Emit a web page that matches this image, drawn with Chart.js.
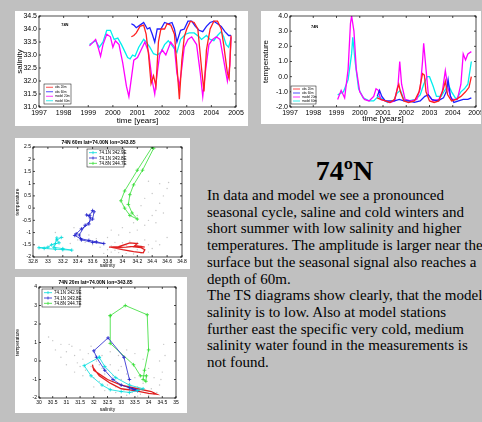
<!DOCTYPE html>
<html lang="en">
<head>
<meta charset="UTF-8" />
<title>74N salinity, temperature and TS diagrams</title>
<script src="https://cdn.jsdelivr.net/npm/chart.js"></script>
<style>
  body {
    margin: 0;
    width: 482px;
    height: 422px;
    overflow: hidden;
    position: relative;
    background: #c0c0c0;
    font-family: "Liberation Serif", "Times New Roman", serif;
  }
  .panel { position: absolute; background: #fff; }
  .panel canvas { display: block; }
  h2 {
    position: absolute; left: 207px; width: 275px; top: 157px;
    margin: 0; text-align: center; font-size: 28px; line-height: 28px; font-weight: bold;
  }
  .txt {
    position: absolute; left: 207px; top: 187px; margin: 0;
    font-size: 15px; line-height: 16.7px; white-space: pre; color: #000;
  }
</style>
</head>
<body>

<div class="panel" style="left:15px;top:11px;width:233px;height:115px"><canvas id="salChart" width="233" height="115"></canvas></div>
<div class="panel" style="left:261px;top:11px;width:220px;height:113px"><canvas id="tempChart" width="220" height="113"></canvas></div>
<div class="panel" style="left:15px;top:138px;width:175px;height:131px"><canvas id="ts60Chart" width="175" height="131"></canvas></div>
<div class="panel" style="left:15px;top:277px;width:172px;height:136px"><canvas id="ts20Chart" width="172" height="136"></canvas></div>

<h2>74ºN</h2>
<p class="txt">In data and model we see a pronounced
seasonal cycle, saline and cold winters and
short summer with low salinity and higher
temperatures. The amplitude is larger near the
surface but the seasonal signal also reaches a
depth of 60m.
The TS diagrams show clearly, that the model
salinity is to low. Also at model stations
further east the specific very cold, medium
salinity water found in the measurements is
not found.</p>

<script>
// ---- salinity time series [year, salinity] ----
const salObs20 = [[2000.75,33.7],[2000.85,33.75],[2000.95,33.85],[2001.1,34.1],[2001.25,34.15],[2001.35,33.8],[2001.45,33.0],[2001.55,31.9],[2001.65,32.2],[2001.75,31.8],[2001.85,33.5],[2001.95,34.0],[2002.1,34.0],[2002.2,34.2],[2002.35,34.15],[2002.5,33.8],[2002.6,32.6],[2002.7,31.3],[2002.8,32.8],[2002.9,33.7],[2003.0,34.0],[2003.15,34.3],[2003.3,34.25],[2003.45,34.0],[2003.6,32.5],[2003.7,31.6],[2003.8,33.2],[2003.95,34.0],[2004.1,34.3],[2004.25,34.3],[2004.4,34.0],[2004.5,33.4],[2004.65,32.3],[2004.72,32.1],[2004.8,33.75]];
const salObs60 = [[2000.75,34.2],[2000.85,34.15],[2000.95,34.05],[2001.1,34.15],[2001.25,34.25],[2001.4,34.0],[2001.5,34.05],[2001.6,33.8],[2001.7,33.5],[2001.8,34.0],[2001.95,34.0],[2002.1,34.25],[2002.25,34.2],[2002.4,34.25],[2002.5,34.0],[2002.6,33.5],[2002.75,33.95],[2002.9,34.0],[2003.05,34.3],[2003.2,34.3],[2003.35,34.1],[2003.5,33.95],[2003.65,33.9],[2003.8,34.1],[2003.95,34.25],[2004.1,34.3],[2004.25,34.2],[2004.4,34.1],[2004.55,33.9],[2004.7,33.75],[2004.8,33.75]];
const salMod20 = [[1999.05,33.35],[1999.3,33.6],[1999.4,33.3],[1999.5,32.95],[1999.6,33.4],[1999.75,33.8],[1999.9,33.7],[2000.0,33.3],[2000.1,33.55],[2000.25,33.4],[2000.4,32.7],[2000.55,31.8],[2000.65,31.4],[2000.75,32.1],[2000.85,32.8],[2001.0,32.9],[2001.15,33.2],[2001.3,33.5],[2001.45,33.1],[2001.6,32.0],[2001.7,31.5],[2001.8,32.3],[2001.9,33.0],[2002.0,33.2],[2002.15,33.0],[2002.35,33.5],[2002.5,33.3],[2002.6,32.3],[2002.7,31.8],[2002.8,32.5],[2002.9,33.3],[2003.05,33.6],[2003.2,33.7],[2003.4,33.4],[2003.55,32.3],[2003.65,31.4],[2003.75,32.3],[2003.9,33.4],[2004.05,33.6],[2004.2,33.7],[2004.35,33.6],[2004.5,32.8],[2004.65,32.0],[2004.75,32.6],[2004.8,33.7]];
const salMod60 = [[1999.05,33.4],[1999.3,33.55],[1999.45,33.3],[1999.6,33.5],[1999.75,33.95],[1999.9,33.95],[2000.05,33.6],[2000.2,33.65],[2000.35,33.4],[2000.5,33.1],[2000.6,32.9],[2000.7,32.85],[2000.8,33.0],[2000.9,32.95],[2001.05,33.3],[2001.25,33.6],[2001.35,33.5],[2001.5,33.3],[2001.65,33.05],[2001.8,33.0],[2001.95,33.1],[2002.1,33.4],[2002.25,33.55],[2002.45,33.3],[2002.6,33.1],[2002.75,33.6],[2002.95,33.8],[2003.1,33.85],[2003.3,33.85],[2003.5,33.7],[2003.6,33.6],[2003.8,33.75],[2003.95,33.6],[2004.1,33.55],[2004.25,33.75],[2004.4,33.9],[2004.5,33.7],[2004.6,33.4],[2004.7,33.3],[2004.8,33.65]];

// ---- temperature time series [year, temperature] ----
const tempObs20 = [[2000.75,-1.4],[2000.9,-1.5],[2001.1,-1.6],[2001.3,-1.7],[2001.5,-1.5],[2001.62,-0.8],[2001.68,-0.5],[2001.75,-1.0],[2001.9,-1.6],[2002.1,-1.7],[2002.35,-1.6],[2002.55,-1.0],[2002.7,0.2],[2002.78,0.1],[2002.85,-1.0],[2003.0,-1.6],[2003.2,-1.7],[2003.4,-1.6],[2003.6,-0.8],[2003.68,-0.3],[2003.78,-1.2],[2003.95,-1.6],[2004.15,-1.5],[2004.35,-1.3],[2004.55,-1.0],[2004.7,-0.7],[2004.8,0.0]];
const tempObs60 = [[2000.75,-1.3],[2000.85,-0.9],[2000.95,-1.3],[2001.1,-1.6],[2001.3,-1.6],[2001.5,-1.6],[2001.7,-1.5],[2001.9,-1.6],[2002.1,-1.6],[2002.35,-1.7],[2002.6,-1.6],[2002.8,-1.3],[2002.95,-1.2],[2003.1,-1.5],[2003.35,-1.6],[2003.6,-1.4],[2003.72,-1.0],[2003.8,-0.2],[2003.9,-1.3],[2004.05,-1.7],[2004.25,-1.6],[2004.45,-1.5],[2004.65,-1.5],[2004.8,-1.4]];
const tempMod20 = [[1999.05,-1.5],[1999.2,-0.9],[1999.35,-1.4],[1999.5,0.5],[1999.6,3.5],[1999.65,4.0],[1999.75,3.0],[1999.85,0.5],[2000.0,-1.0],[2000.2,-1.5],[2000.4,-1.6],[2000.6,-1.3],[2000.7,-0.8],[2000.8,-0.9],[2000.9,-1.5],[2001.1,-1.6],[2001.3,-1.7],[2001.5,-1.6],[2001.65,-0.5],[2001.72,1.0],[2001.8,-0.5],[2001.95,-1.5],[2002.2,-1.6],[2002.45,-1.5],[2002.6,-0.8],[2002.7,1.0],[2002.75,2.2],[2002.85,0.5],[2002.95,-1.2],[2003.15,-1.6],[2003.4,-1.5],[2003.55,-1.0],[2003.68,0.4],[2003.8,-0.8],[2003.95,-1.5],[2004.2,-1.5],[2004.35,-0.5],[2004.45,1.5],[2004.55,1.1],[2004.65,1.5],[2004.8,1.65]];
const tempMod60 = [[1999.05,-1.2],[1999.3,-1.0],[1999.5,-0.2],[1999.65,1.5],[1999.7,2.6],[1999.8,1.0],[1999.95,-0.8],[2000.15,-1.4],[2000.4,-1.6],[2000.6,-1.6],[2000.8,-1.3],[2001.0,-1.5],[2001.2,-1.7],[2001.45,-1.6],[2001.6,-1.1],[2001.75,-0.9],[2001.9,-1.5],[2002.1,-1.6],[2002.4,-1.5],[2002.6,-1.2],[2002.75,-0.5],[2002.9,0.0],[2003.0,0.0],[2003.15,-0.6],[2003.3,-1.3],[2003.5,-1.3],[2003.7,-0.8],[2003.8,-0.5],[2003.95,-1.0],[2004.15,-1.5],[2004.35,-1.0],[2004.5,-0.8],[2004.65,-0.5],[2004.8,1.0]];

const seriesNames = ['obs 20m', 'obs 60m', 'model 20m', 'model 60m'];
const stationNames = ['74.1N 342.9E', '74.1N 343.8E', '74.8N 344.7E'];

// ---- TS diagram 60m [salinity, temperature] ----
const ts60Cyan = [[33.18,-1.2],[33.12,-1.3],[33.15,-1.42],[33.05,-1.5],[33.0,-1.6],[32.88,-1.62],[32.95,-1.65],[33.1,-1.68],[33.2,-1.7],[33.32,-1.72],[33.2,-1.66],[33.08,-1.6],[33.1,-1.45],[33.12,-1.22]];
const ts60Blue = [[33.6,-0.1],[33.56,-0.3],[33.52,-0.28],[33.57,-0.4],[33.55,-0.65],[33.45,-0.85],[33.38,-1.05],[33.36,-1.12],[33.44,-1.25],[33.55,-1.32],[33.65,-1.38],[33.75,-1.45],[33.6,-1.4],[33.45,-1.3],[33.42,-1.1],[33.5,-0.7],[33.6,-0.45],[33.62,-0.15]];
const ts60Green = [[34.4,2.5],[34.2,1.55],[34.03,0.7],[33.98,0.3],[34.03,0.0],[34.1,-0.3],[34.2,-0.45],[34.13,-0.2],[34.08,0.15],[34.1,0.55],[34.15,0.95],[34.27,1.55],[34.42,2.45]];
const ts60Red = [[33.82,-1.6],[33.95,-1.58],[34.1,-1.42],[34.2,-1.45],[34.15,-1.58],[34.25,-1.62],[34.3,-1.7],[34.28,-1.83],[34.15,-1.78],[34.0,-1.7],[33.88,-1.62],[34.05,-1.6],[34.2,-1.55],[34.3,-1.6]];
const ts60Obs = [[33.75,-1.85],[33.85,-1.8],[33.95,-1.82],[34.05,-1.85],[34.15,-1.88],[34.25,-1.85],[34.35,-1.8],[33.8,-1.7],[33.9,-1.72],[34.0,-1.68],[34.1,-1.75],[34.2,-1.7],[34.3,-1.72],[34.4,-1.65],[33.7,-1.6],[33.85,-1.55],[33.95,-1.6],[34.05,-1.52],[34.15,-1.58],[34.25,-1.55],[34.35,-1.5],[33.75,-1.45],[33.9,-1.4],[34.0,-1.42],[34.1,-1.35],[34.2,-1.4],[34.3,-1.3],[34.45,-1.35],[33.6,-1.5],[33.5,-1.4],[33.4,-1.3],[33.3,-1.45],[33.2,-1.2],[33.55,-1.1],[33.65,-1.25],[33.8,-1.2],[33.95,-1.1],[34.1,-1.0],[34.2,-0.9],[34.3,-0.7],[34.35,-0.5],[34.4,-0.3],[34.45,-0.1],[34.5,0.2],[34.55,0.5],[34.6,0.8],[34.5,1.0],[34.62,1.05],[34.3,0.4],[34.25,0.1],[34.4,0.6],[34.2,-0.3],[34.15,-0.6],[34.45,-0.6],[34.55,-0.2],[34.35,1.1],[34.0,-0.8],[33.85,-0.9],[34.6,-1.2],[34.5,-1.5],[33.35,-0.8],[33.1,-1.0]];

// ---- TS diagram 20m [salinity, temperature] ----
const ts20Cyan = [[32.2,0.2],[31.65,-0.25],[31.9,-0.8],[32.3,-1.3],[32.6,-1.55],[33.0,-1.65],[33.3,-1.7],[33.6,-1.6],[33.8,-1.5],[33.3,-1.3],[32.8,-0.9],[32.4,-0.3],[32.2,0.2]];
const ts20Blue = [[33.3,-1.0],[33.1,0.2],[32.52,1.25],[32.0,0.55],[32.1,0.2],[32.4,-0.5],[32.7,-1.0],[33.0,-1.3],[33.3,-1.45],[33.5,-1.55],[33.6,-1.6],[33.4,-1.5]];
const ts20Green = [[32.6,2.45],[33.15,3.0],[33.95,2.5],[34.0,0.6],[33.85,-0.5],[33.8,-1.0],[33.9,-1.1],[33.92,-0.8],[33.7,-0.8],[33.45,-0.2],[32.6,0.95],[32.6,2.45]];
const ts20Red = [[31.95,-0.2],[32.0,-0.5],[32.5,-1.0],[33.0,-1.3],[33.6,-1.5],[34.1,-1.65],[34.3,-1.8],[34.0,-1.75],[33.5,-1.6],[33.0,-1.5],[32.6,-1.2],[32.2,-0.8],[31.95,-0.3]];
const ts20Obs = [[30.35,1.3],[30.5,1.1],[30.6,0.6],[30.8,0.9],[31.0,0.5],[31.2,0.8],[31.3,0.3],[31.5,0.6],[31.4,-0.1],[31.6,0.1],[31.8,0.4],[31.7,-0.5],[31.9,-0.3],[32.0,-0.9],[32.1,0.0],[32.3,-0.4],[32.2,-1.1],[32.4,-0.7],[32.5,-1.3],[32.6,-0.2],[32.7,-0.8],[32.8,-1.4],[32.9,-0.5],[33.0,-1.0],[33.1,-1.6],[33.2,-0.7],[33.3,-1.2],[33.4,-1.7],[33.5,-0.9],[33.6,-1.4],[33.7,-1.8],[33.8,-1.2],[33.9,-1.6],[34.0,-1.85],[34.1,-1.5],[34.2,-1.8],[34.3,-1.7],[34.4,-1.3],[34.5,-0.6],[34.6,0.3],[34.4,0.0],[34.2,-0.9],[34.0,-0.4],[33.8,0.1],[33.5,0.4],[33.2,0.6],[32.9,0.3],[32.6,0.5],[32.3,0.3],[31.9,0.8],[31.6,-0.8],[31.3,-0.6],[31.0,-0.2],[30.8,0.2],[31.1,0.9],[32.0,-1.4],[32.4,-1.6],[32.8,-1.7],[33.2,-1.85],[33.6,-1.9],[34.55,0.9],[34.45,-1.0],[33.0,-0.3],[32.2,-0.2],[31.5,-0.3]];

Chart.defaults.font.family = '"Liberation Sans", Arial, sans-serif';
Chart.defaults.color = '#000';
Chart.defaults.animation = false;

// box round the plot with inward ticks, like matlab axes
const matlabBox = {
  id: 'matlabBox',
  afterDatasetsDraw(chart) {
    const { ctx, chartArea: a, scales } = chart;
    const len = 2;
    ctx.save();
    ctx.strokeStyle = '#000';
    ctx.lineWidth = 0.7;
    ctx.strokeRect(a.left, a.top, a.width, a.height);
    ctx.beginPath();
    scales.x.ticks.forEach(t => {
      const px = scales.x.getPixelForValue(t.value);
      ctx.moveTo(px, a.bottom); ctx.lineTo(px, a.bottom - len);
      ctx.moveTo(px, a.top); ctx.lineTo(px, a.top + len);
    });
    scales.y.ticks.forEach(t => {
      const py = scales.y.getPixelForValue(t.value);
      ctx.moveTo(a.left, py); ctx.lineTo(a.left + len, py);
      ctx.moveTo(a.right, py); ctx.lineTo(a.right - len, py);
    });
    ctx.stroke();
    ctx.restore();
  }
};

// small framed legend inside the plot area
const boxLegend = {
  id: 'boxLegend',
  afterDraw(chart, args, o) {
    if (!o || !o.w) return;
    const { ctx, chartArea: a } = chart;
    const items = chart.data.datasets.filter(d => d.label);
    const x = a.left + o.dx;
    const y = o.fromBottom ? a.bottom - o.dy - o.h : a.top + o.dy;
    ctx.save();
    ctx.fillStyle = '#fff';
    ctx.fillRect(x, y, o.w, o.h);
    ctx.strokeStyle = '#000';
    ctx.lineWidth = 0.5;
    ctx.strokeRect(x, y, o.w, o.h);
    ctx.font = o.size + 'px "Liberation Sans", Arial, sans-serif';
    ctx.textBaseline = 'middle';
    const row = (o.h - 2) / items.length;
    items.forEach((d, i) => {
      const cy = y + 1 + row * (i + 0.5);
      ctx.strokeStyle = d.borderColor;
      ctx.lineWidth = 0.8;
      ctx.beginPath();
      ctx.moveTo(x + 2, cy); ctx.lineTo(x + 2 + o.line, cy);
      if (d.pointStyle === 'cross') {
        const mx = x + 2 + o.line / 2;
        ctx.moveTo(mx, cy - 1.5); ctx.lineTo(mx, cy + 1.5);
      }
      ctx.stroke();
      ctx.fillStyle = '#000';
      ctx.fillText(d.label, x + 4 + o.line, cy + 0.3);
    });
    ctx.restore();
  }
};

// text placed at data coordinates ("74N")
const dataNote = {
  id: 'dataNote',
  afterDraw(chart, args, o) {
    if (!o || !o.text) return;
    const { ctx, scales } = chart;
    ctx.save();
    ctx.font = 'bold ' + o.size + 'px "Liberation Sans", Arial, sans-serif';
    ctx.fillStyle = '#000';
    ctx.textBaseline = 'middle';
    ctx.fillText(o.text, scales.x.getPixelForValue(o.x), scales.y.getPixelForValue(o.y));
    ctx.restore();
  }
};

function axis(pos, min, max, step, fmt, title, band, fs, ts) {
  return {
    type: 'linear', position: pos, min: min, max: max,
    grid: { display: false, drawTicks: false },
    border: { display: false },
    ticks: { stepSize: step, font: { size: fs }, padding: 2, maxRotation: 0, autoSkip: false, callback: fmt },
    title: { display: true, text: title, font: { size: ts }, padding: 0 },
    afterFit(s) {
      if (pos === 'left') s.width = band; else s.height = band;
      s.paddingLeft = 0; s.paddingRight = 0; s.paddingTop = 0; s.paddingBottom = 0;
    }
  };
}

function line(label, pts, color) {
  return {
    label: label, data: pts.map(p => ({ x: p[0], y: p[1] })),
    borderColor: color, backgroundColor: color,
    showLine: true, pointRadius: 0, borderWidth: 1.3
  };
}

function tsLine(label, pts, color) {
  const d = line(label, pts, color);
  d.pointStyle = 'cross';
  d.pointRadius = 1.8;
  d.borderWidth = 0.8;
  return d;
}

function cloud(pts) {
  return {
    data: pts.map(p => ({ x: p[0], y: p[1] })),
    backgroundColor: 'rgba(150,150,150,0.55)', borderColor: 'rgba(150,150,150,0.55)',
    pointRadius: 0.7, borderWidth: 0, showLine: false
  };
}

const yearFmt = v => String(v);
const oneDec = v => v.toFixed(1);
const short = v => String(Math.round(v * 10) / 10);

new Chart(document.getElementById('salChart'), {
  type: 'scatter',
  data: { datasets: [
    line(seriesNames[0], salObs20, '#ff2020'),
    line(seriesNames[1], salObs60, '#2020ff'),
    line(seriesNames[2], salMod20, '#ff00ff'),
    line(seriesNames[3], salMod60, '#00eeee')
  ] },
  options: {
    responsive: false,
    layout: { padding: { left: 0, top: 5, right: 12, bottom: 0 } },
    scales: {
      x: axis('bottom', 1997, 2005, 1, yearFmt, 'time [years]', 19, 7, 8),
      y: axis('left', 31, 34.5, 0.5, oneDec, 'salinity', 24, 7, 8)
    },
    plugins: {
      legend: { display: false }, tooltip: { enabled: false },
      boxLegend: { dx: 5, dy: 3, fromBottom: true, w: 27, h: 20, size: 3, line: 7 },
      dataNote: { text: '74N', x: 1997.9, y: 34.15, size: 4 }
    }
  },
  plugins: [matlabBox, boxLegend, dataNote]
});

new Chart(document.getElementById('tempChart'), {
  type: 'scatter',
  data: { datasets: [
    line(seriesNames[0], tempObs20, '#ff2020'),
    line(seriesNames[1], tempObs60, '#2020ff'),
    line(seriesNames[2], tempMod20, '#ff00ff'),
    line(seriesNames[3], tempMod60, '#00eeee')
  ] },
  options: {
    responsive: false,
    layout: { padding: { left: 0, top: 5, right: 5, bottom: 0 } },
    scales: {
      x: axis('bottom', 1997, 2005, 1, yearFmt, 'time [years]', 17, 7, 8),
      y: axis('left', -2, 4, 1, oneDec, 'temperature', 29, 7, 8)
    },
    plugins: {
      legend: { display: false }, tooltip: { enabled: false },
      boxLegend: { dx: 1, dy: 3, fromBottom: true, w: 25, h: 18, size: 3, line: 7 },
      dataNote: { text: '74N', x: 1997.9, y: 3.3, size: 4 }
    }
  },
  plugins: [matlabBox, boxLegend, dataNote]
});

new Chart(document.getElementById('ts60Chart'), {
  type: 'scatter',
  data: { datasets: [
    tsLine(stationNames[0], ts60Cyan, '#00dddd'),
    tsLine(stationNames[1], ts60Blue, '#2020cc'),
    tsLine(stationNames[2], ts60Green, '#33dd33'),
    line('', ts60Red, '#e02020'),
    cloud(ts60Obs)
  ] },
  options: {
    responsive: false,
    layout: { padding: { left: 0, top: 0, right: 8, bottom: 0 } },
    scales: {
      x: axis('bottom', 32.8, 34.8, 0.2, short, 'salinity', 12, 5, 5),
      y: axis('left', -2, 2.5, 0.5, short, 'temperature', 18, 5, 5)
    },
    plugins: {
      legend: { display: false }, tooltip: { enabled: false },
      title: { display: true, text: '74N 60m lat=74.00N lon=343.85', font: { size: 5 }, padding: { top: 2, bottom: 1 } },
      boxLegend: { dx: 54, dy: 2, w: 37, h: 18, size: 4.5, line: 8 }
    }
  },
  plugins: [matlabBox, boxLegend]
});

new Chart(document.getElementById('ts20Chart'), {
  type: 'scatter',
  data: { datasets: [
    tsLine(stationNames[0], ts20Cyan, '#00dddd'),
    tsLine(stationNames[1], ts20Blue, '#2020cc'),
    tsLine(stationNames[2], ts20Green, '#33dd33'),
    line('', ts20Red, '#e02020'),
    cloud(ts20Obs)
  ] },
  options: {
    responsive: false,
    layout: { padding: { left: 0, top: 1, right: 11, bottom: 0 } },
    scales: {
      x: axis('bottom', 30, 35, 0.5, short, 'salinity', 15, 5, 5),
      y: axis('left', -2, 4, 1, short, 'temperature', 24, 5, 5)
    },
    plugins: {
      legend: { display: false }, tooltip: { enabled: false },
      title: { display: true, text: '74N 20m lat=74.00N lon=343.85', font: { size: 5 }, padding: { top: 2, bottom: 1 } },
      boxLegend: { dx: 3, dy: 2, w: 38, h: 18, size: 4.5, line: 8 }
    }
  },
  plugins: [matlabBox, boxLegend]
});
</script>
</body>
</html>
